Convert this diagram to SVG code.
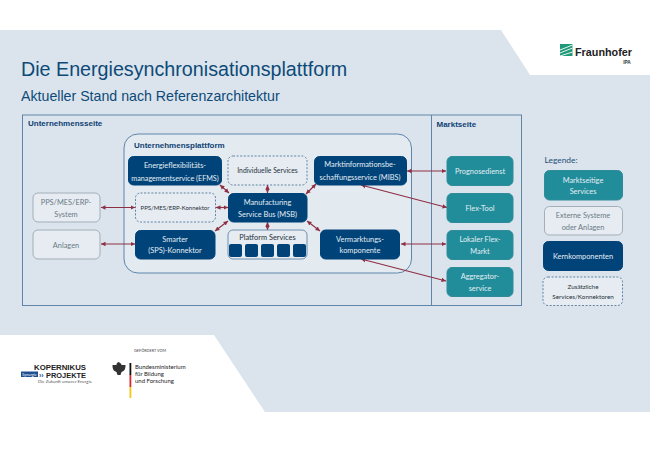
<svg xmlns="http://www.w3.org/2000/svg" width="650" height="450" viewBox="0 0 650 450">
<style>
text{font-family:Lato,"Open Sans","Liberation Sans",sans-serif;text-anchor:middle;font-size:7.400px}
.core rect{fill:#004379;stroke:#004379}
.core text,.mkt text{fill:#e4edf3}
.mkt rect{fill:#218d9b;stroke:#2f8c9b}
.ext rect{fill:#e6ecf1;stroke:#a2aeb8;stroke-width:1}
.ext text{fill:#6b7a87}
.add rect{fill:#e6ecf1;stroke:#3e6a8f;stroke-width:.8;stroke-dasharray:2 1.600}
.add text{fill:#26323c;font-size:6.300px}
.con line{stroke:#8e2f45;stroke-width:1.200;marker-start:url(#a);marker-end:url(#a)}
.head{font-family:"Liberation Sans",sans-serif;text-anchor:start;font-weight:bold;fill:#0f4273;font-size:8px}
</style>
<defs><marker id="a" markerUnits="userSpaceOnUse" markerWidth="6" markerHeight="6" refX="4.500" refY="3" orient="auto-start-reverse"><path d="M0,.8L4.500,3L0,5.200z" fill="#8e2f45"/></marker></defs>
<rect width="650" height="450" fill="#fff"/>
<polygon points="0,30 501,30 530,75 650,75 650,412 265,412 214,335 0,335" fill="#dbe4ed"/>
<text x="21" y="75.500" style="font-family:'Liberation Sans',sans-serif;text-anchor:start;font-size:19.700px;fill:#0d4a78">Die Energiesynchronisationsplattform</text>
<text x="21" y="101" style="font-family:'Liberation Sans',sans-serif;text-anchor:start;font-size:14.200px;fill:#0d4a78">Aktueller Stand nach Referenzarchitektur</text>
<g id="fraunhofer">
<rect x="560" y="44" width="12.500" height="12" fill="#1f9a78"/>
<path d="M560,50L572.500,45M560,53L572.500,48M560,56L572.500,52" stroke="#fff" stroke-width=".9"/>
<text x="603.500" y="56" style="font-family:'Liberation Sans',sans-serif;font-size:10.800px;font-weight:bold;fill:#222">Fraunhofer</text>
<text x="627" y="63.500" style="font-family:'Liberation Sans',sans-serif;font-size:4.800px;font-weight:bold;fill:#333">IPA</text>
</g>
<rect id="frame" x="22.500" y="115" width="499" height="190.500" fill="none" stroke="#5f85aa"/>
<line x1="431.500" y1="115" x2="431.500" y2="305.500" stroke="#5f85aa"/>
<rect id="platform" x="124" y="134" width="287.500" height="139" rx="14" fill="#e3eaf0" stroke="#5f85aa"/>
<text x="28" y="126" class="head">Unternehmensseite</text>
<text x="436.500" y="127" class="head">Marktseite</text>
<text x="134" y="148" class="head">Unternehmensplattform</text>
<g class="con">
<line x1="101" y1="207.500" x2="135" y2="207.500"/>
<line x1="101" y1="244" x2="135" y2="244"/>
<line x1="216" y1="207.500" x2="228" y2="207.500"/>
<line x1="220" y1="185" x2="229" y2="193"/>
<line x1="215" y1="231" x2="228" y2="221"/>
<line x1="267.500" y1="185" x2="267.500" y2="193"/>
<line x1="267.500" y1="222" x2="267.500" y2="230"/>
<line x1="316" y1="184" x2="306" y2="194"/>
<line x1="307" y1="221" x2="320" y2="231"/>
<line x1="407" y1="171" x2="446" y2="171"/>
<line x1="361" y1="185" x2="447" y2="207.500"/>
<line x1="401" y1="244" x2="446" y2="244"/>
<line x1="361" y1="259" x2="446" y2="281"/>
</g>
<g id="efms" class="core"><rect x="128.500" y="156.500" width="93" height="28.500" rx="5"/><text x="175" y="167.500">Energieflexibilitäts-</text><text x="175" y="180.500" style="font-size:7.200px">managementservice (EFMS)</text></g>
<g id="individuelle" class="add"><rect x="228" y="156" width="79" height="29" rx="5"/><text x="267.500" y="173" style="font-size:6.800px">Individuelle Services</text></g>
<g id="mibs" class="core"><rect x="314.500" y="156.500" width="92" height="28.500" rx="5"/><text x="360" y="167">Marktinformationsbe-</text><text x="360" y="180">schaffungsservice (MIBS)</text></g>
<g id="msb" class="core"><rect x="228.500" y="193.500" width="78.500" height="28.500" rx="5"/><text x="267.500" y="205">Manufacturing</text><text x="267.500" y="216.500">Service Bus (MSB)</text></g>
<g id="konnektor" class="add"><rect x="135.500" y="193" width="80" height="29" rx="5"/><text x="175" y="209.500" style="font-size:6px">PPS/MES/ERP-Konnektor</text></g>
<g id="sps" class="core"><rect x="135.500" y="230.500" width="79.500" height="28.500" rx="5"/><text x="175" y="241.500">Smarter</text><text x="175" y="253">(SPS)-Konnektor</text></g>
<g id="platformservices"><rect x="228" y="230" width="79" height="29" rx="5" fill="#e6ecf1" stroke="#6d90ad"/><text x="267.500" y="240" style="fill:#26323c">Platform Services</text>
<rect x="229" y="244" width="13" height="13" rx="2" fill="#004379"/><rect x="245" y="244" width="13" height="13" rx="2" fill="#004379"/><rect x="261" y="244" width="13" height="13" rx="2" fill="#004379"/><rect x="277" y="244" width="13" height="13" rx="2" fill="#004379"/><rect x="293" y="244" width="13" height="13" rx="2" fill="#004379"/></g>
<g id="vermarktung" class="core"><rect x="320.500" y="230" width="79" height="29" rx="5"/><text x="360" y="241.500">Vermarktungs-</text><text x="360" y="253">komponente</text></g>
<g id="ppssystem" class="ext"><rect x="33" y="193" width="67" height="29" rx="5"/><text x="66" y="205">PPS/MES/ERP-</text><text x="66" y="216.500">System</text></g>
<g id="anlagen" class="ext"><rect x="33" y="230" width="67" height="29" rx="5"/><text x="66" y="247.500">Anlagen</text></g>
<g id="prognose" class="mkt"><rect x="447" y="156.500" width="66" height="29" rx="5"/><text x="480" y="174">Prognosedienst</text></g>
<g id="flextool" class="mkt"><rect x="447" y="193.500" width="66" height="29" rx="5"/><text x="480" y="211">Flex-Tool</text></g>
<g id="lokal" class="mkt"><rect x="447" y="230.500" width="66" height="29" rx="5"/><text x="480" y="242">Lokaler Flex-</text><text x="480" y="253.500">Markt</text></g>
<g id="aggregator" class="mkt"><rect x="447" y="267.500" width="66" height="29" rx="5"/><text x="480" y="279">Aggregator-</text><text x="480" y="290.500">service</text></g>
<text x="544.500" y="163" style="text-anchor:start;font-size:8.400px;fill:#1f4f78">Legende:</text>
<g id="leg1" class="mkt"><rect x="544.500" y="170.500" width="78" height="29.500" rx="5"/><text x="583" y="183">Marktseitige</text><text x="583" y="194">Services</text></g>
<g id="leg2" class="ext"><rect x="544.500" y="206.500" width="78" height="28.500" rx="5"/><text x="583" y="218">Externe Systeme</text><text x="583" y="229.500">oder Anlagen</text></g>
<g id="leg3" class="core"><rect x="543.500" y="241.500" width="79" height="29" rx="5"/><text x="583" y="259">Kernkomponenten</text></g>
<g id="leg4" class="add"><rect x="543" y="277" width="79.500" height="28.500" rx="5"/><text x="583" y="289">Zusätzliche</text><text x="583" y="298.500">Services/Konnektoren</text></g>
<g id="kopernikus">
<text x="60" y="369.500" style="font-family:'Liberation Sans',sans-serif;font-size:7.800px;font-weight:bold;fill:#222">KOPERNIKUS</text>
<rect x="21" y="371.500" width="17" height="5.500" fill="#1f4f8f"/><text x="29.500" y="376" style="font-size:3.800px;fill:#fff">Synergie</text>
<text x="39" y="377.500" style="font-family:'Liberation Sans',sans-serif;font-size:7px;font-weight:bold;text-anchor:start;fill:#1f4f8f">››</text>
<text x="66" y="377.500" style="font-family:'Liberation Sans',sans-serif;font-size:7.400px;font-weight:bold;fill:#222">PROJEKTE</text>
<text x="65" y="383" style="font-size:4.400px;fill:#555">Die Zukunft unserer Energie</text>
</g>
<g id="bmbf">
<text x="150" y="351.500" style="font-size:3.800px;fill:#444">GEFÖRDERT VOM</text>
<path d="M118.500,362c-2,1 -2,2 -2,3l-4,0c0,4 1,6 4,7l1,3h3l1,-3c3,-1 4,-3 4,-7l-4,0c0,-1 -1,-2 -3,-3z" fill="#333"/>
<rect x="129.500" y="363" width="1.800" height="12" fill="#111"/><rect x="129.500" y="375" width="1.800" height="12" fill="#d8282f"/><rect x="129.500" y="387" width="1.800" height="11" fill="#f5c518"/>
<text x="135" y="368.500" style="text-anchor:start;font-size:6px;fill:#222">Bundesministerium</text>
<text x="135" y="375.500" style="text-anchor:start;font-size:6px;fill:#222">für Bildung</text>
<text x="135" y="382.500" style="text-anchor:start;font-size:6px;fill:#222">und Forschung</text>
</g>
</svg>
